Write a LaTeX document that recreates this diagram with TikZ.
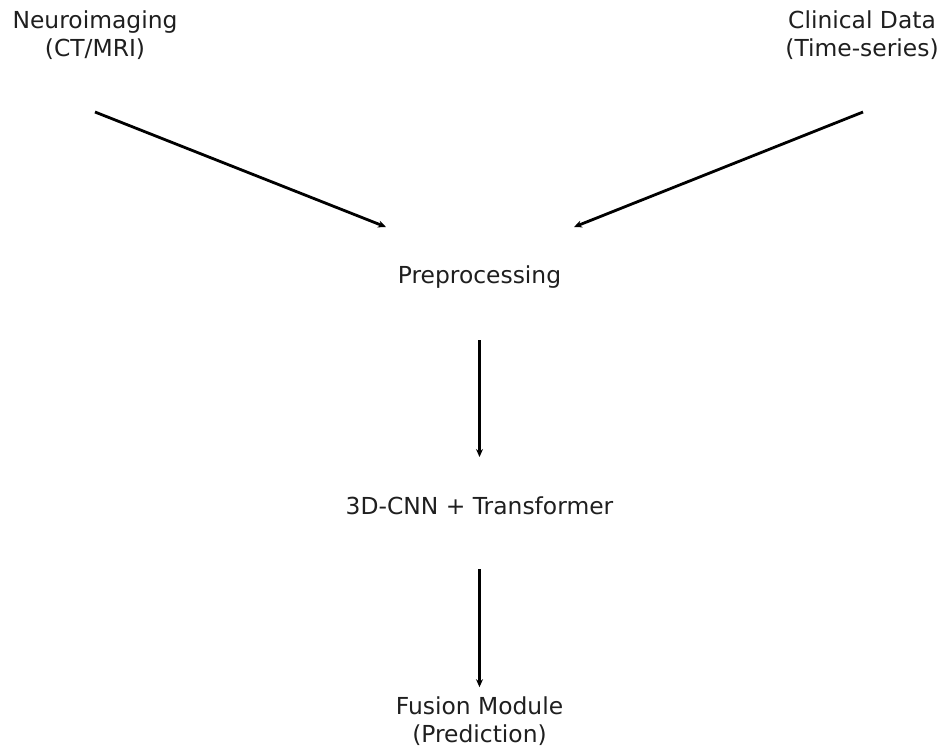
\documentclass[tikz,border=0pt]{standalone}
\usepackage{fontspec}
\setmainfont{DejaVu Sans}
\usetikzlibrary{arrows.meta, calc}

\begin{document}
\begin{tikzpicture}[x=0.5pt, y=-0.5pt,
    lbl/.style={align=center, inner sep=0pt, text=black!88, font=\fontsize{11.7}{14}\selectfont},
    flow/.style={-{Stealth[length=4pt, width=3.5pt]}, line width=1.4pt}]
  \useasboundingbox (0,0) rectangle (941,746);
  \node (neuro) [lbl] at (95,35) {Neuroimaging\\(CT/MRI)};
  \node (clin) [lbl] at (862,35) {Clinical Data\\(Time-series)};
  \node (prep) [lbl] at (479.5,277) {Preprocessing};
  \node (cnn) [lbl] at (479.5,506) {3D-CNN + Transformer};
  \node (fus) [lbl] at (479.5,721) {Fusion Module\\(Prediction)};
  % arrow ends
  \coordinate (neuro-out) at (95,112);
  \coordinate (clin-out) at (863,112);
  \coordinate (prep-l) at (386,227);
  \coordinate (prep-r) at (574,227);
  \draw[flow] (neuro-out) -- (prep-l);
  \draw[flow] (clin-out) -- (prep-r);
  \draw[flow] ($(prep)+(0,63)$) -- ($(cnn)+(0,-49)$);
  \draw[flow] ($(cnn)+(0,63)$) -- ($(fus.north)+(0,-9)$);
\end{tikzpicture}
\end{document}
